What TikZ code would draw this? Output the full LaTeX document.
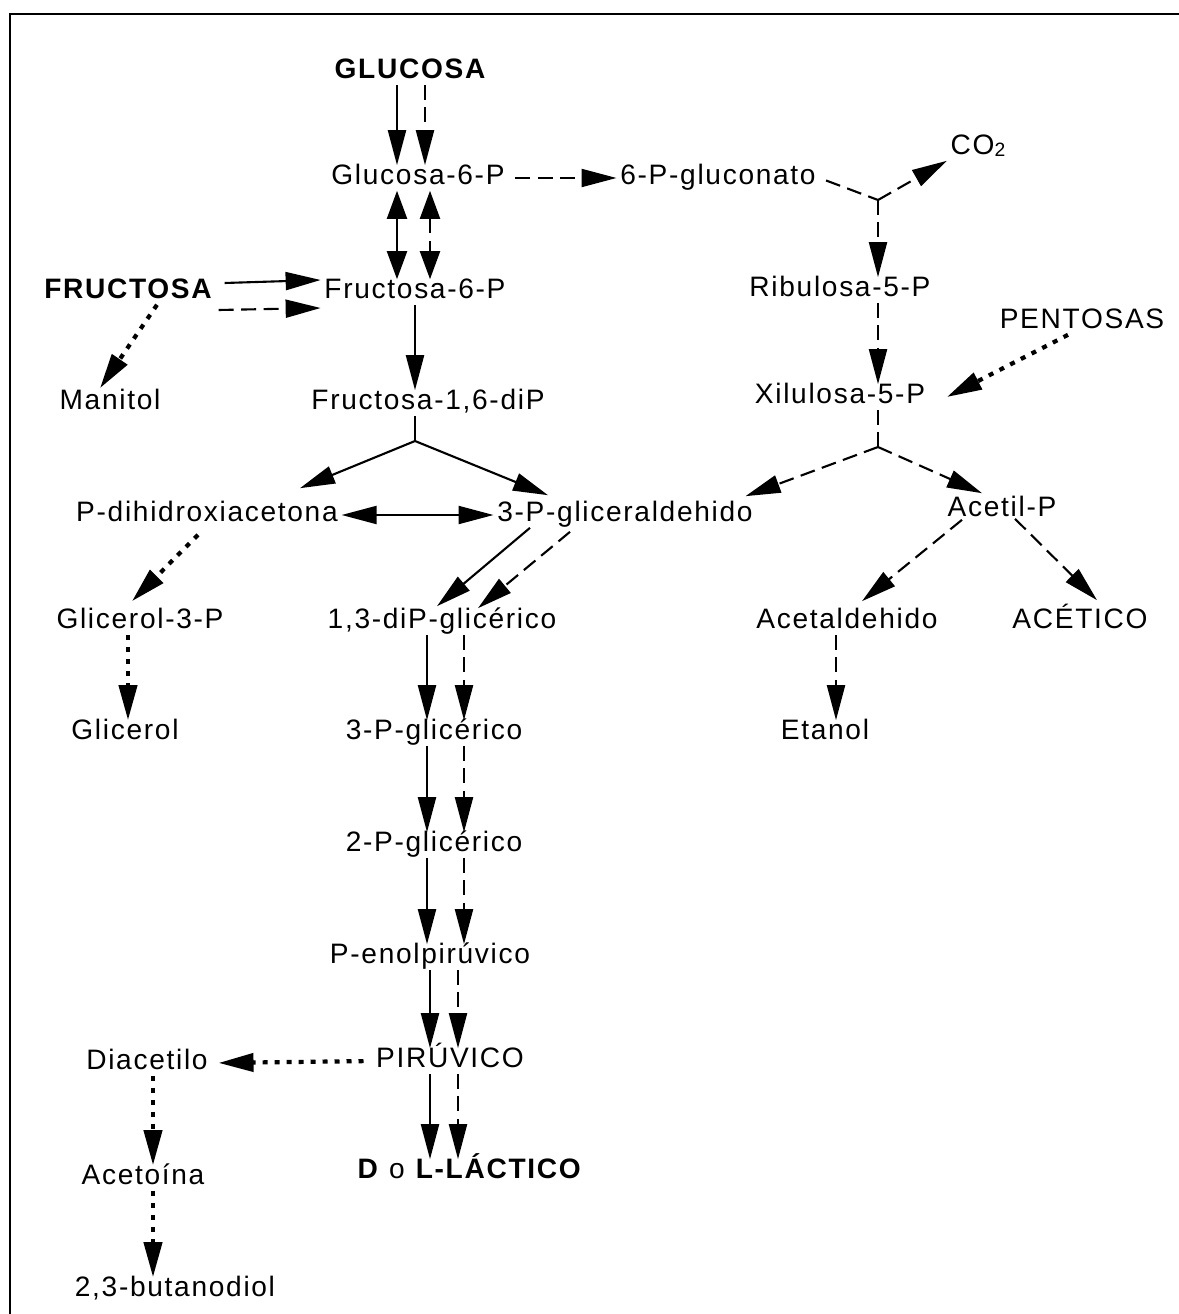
\documentclass[tikz,border=0pt]{standalone}
\usepackage{fontspec}
\setmainfont{Liberation Sans}[LetterSpace=6]
\usetikzlibrary{arrows.meta}
\tikzset{
  >={Triangle[length=7mm,width=3.6mm]},
  met/.style={inner xsep=2pt,inner ysep=3.5pt,text height=0.72em,text depth=0pt,font=\fontsize{16}{19}\selectfont},
  sugar/.style={met,font=\fontsize{16}{19}\selectfont\bfseries},
  glyco/.style={->,line width=1.2pt},
  hetero/.style={->,line width=1.2pt,dash pattern=on 3mm off 1.5mm},
  minor/.style={->,line width=2.4pt,dash pattern=on 1mm off 1.4mm},
  twoway/.style={>={Triangle[length=5.6mm,width=4mm]},<->},
  frame/.style={line width=1.7pt},
}

\begin{document}
\begin{tikzpicture}[x=0.02cm,y=-0.02cm]
  \useasboundingbox (0,0) rectangle (1178,1314);
  \draw[frame] (10,1330) -- (10,14) -- (1190,14);
  % metabolites
  \node[sugar] (glu) at (410,72) {GLUCOSA};
  \node[met] (g6p) at (418,178) {Glucosa-6-P};
  \node[met] (gnt) at (718,178) {6-P-gluconato};
  \node[met] (co2) at (978,148) {CO\raisebox{-1pt}{\fontsize{11}{11}\selectfont 2}};
  \node[sugar] (fru) at (128,292) {FRUCTOSA};
  \node[met] (f6p) at (415,292) {Fructosa-6-P};
  \node[met] (rib) at (840,290) {Ribulosa-5-P};
  \node[met] (pen) at (1082,322) {PENTOSAS};
  \node[met] (man) at (110,403) {Manitol};
  \node[met] (fdp) at (428,403) {Fructosa-1,6-diP};
  \node[met] (xil) at (840,397) {Xilulosa-5-P};
  \node[met] (dha) at (207,515) {P-dihidroxiacetona};
  \node[met] (gap) at (625,515) {3-P-gliceraldehido};
  \node[met] (acp) at (1002,510) {Acetil-P};
  \node[met] (g3p) at (140,622) {Glicerol-3-P};
  \node[met] (bpg) at (442,622) {1,3-diP-glicérico};
  \node[met] (acd) at (847,622) {Acetaldehido};
  \node[met] (ace) at (1080,622) {ACÉTICO};
  \node[met] (gol) at (125,733) {Glicerol};
  \node[met] (pg3) at (434,733) {3-P-glicérico};
  \node[met] (eta) at (825,733) {Etanol};
  \node[met] (pg2) at (434,845) {2-P-glicérico};
  \node[met] (pep) at (430,957) {P-enolpirúvico};
  \node[met] (pir) at (450,1061) {PIRÚVICO};
  \node[met] (dia) at (147,1063) {Diacetilo};
  \node[met] (lac) at (470,1172) {\textbf{D} o \textbf{L-LÁCTICO}};
  \node[met] (atn) at (143,1178) {Acetoína};
  \node[met] (bdo) at (175,1290) {2,3-butanodiol};
  % lanes and branch points
  \coordinate (l1s) at (397,0);
  \coordinate (l1d) at (425,0);
  \coordinate (l2d) at (430,0);
  \coordinate (l3) at (415,0);
  \coordinate (l4s) at (427,0);
  \coordinate (l4d) at (464,0);
  \coordinate (l5s) at (430,0);
  \coordinate (l5d) at (458,0);
  \coordinate (l6) at (836,0);
  \coordinate (l7) at (128,0);
  \coordinate (l8) at (153,0);
  \coordinate (jF) at (415,441);
  \coordinate (jG) at (878,200);
  \coordinate (jX) at (878,447);
  % upper part
  \draw[glyco] (glu.south -| l1s) -- (g6p.north -| l1s);
  \draw[hetero] (glu.south -| l1d) -- (g6p.north -| l1d);
  \draw[glyco,twoway] (g6p.south -| l1s) -- (f6p.north -| l1s);
  \draw[hetero,twoway] (g6p.south -| l2d) -- (f6p.north -| l2d);
  \draw[hetero,shorten <=4pt] (g6p.east) -- (gnt.west);
  \draw[hetero,-,shorten <=4pt] (gnt.east) -- (jG);
  \draw[hetero] (jG) -- (co2.south west);
  \draw[hetero] (jG) -- (rib.north -| jG);
  \draw[hetero] (rib.south -| jG) -- (xil.north -| jG);
  \draw[minor] ([shift={(-14,0)}]pen.south) -- ([shift={(18,0)}]xil.east);
  \draw[glyco] ([shift={(9,-9)}]fru.east) -- ([shift={(0,-12)}]f6p.west);
  \draw[hetero] ([shift={(3,18)}]fru.east) -- ([shift={(0,16)}]f6p.west);
  \draw[minor] ([shift={(29,0)}]fru.south) -- ([shift={(-10,-2)}]man.north);
  \draw[glyco] (f6p.south -| l3) -- (fdp.north -| l3);
  \draw[glyco,-] (fdp.south -| jF) -- (jF);
  \draw[glyco] (jF) -- ([shift={(93,-14)}]dha.north);
  \draw[glyco] (jF) -- ([shift={(-77,-7)}]gap.north);
  \draw[glyco,<->] (dha.east) -- (gap.west);
  \draw[glyco] ([shift={(-95,0)}]gap.south) -- ([shift={(-5,-3)}]bpg.north);
  \draw[hetero] ([shift={(-55,4)}]gap.south) -- ([shift={(36,-1)}]bpg.north);
  \draw[hetero,-] (xil.south -| jX) -- (jX);
  \draw[hetero] (jX) -- ([shift={(-11,-6)}]gap.north east);
  \draw[hetero] (jX) -- ([shift={(-20,-4)}]acp.north);
  \draw[hetero] ([shift={(-40,-3)}]acp.south) -- ([shift={(15,-8)}]acd.north);
  \draw[hetero] ([shift={(13,-4)}]acp.south) -- ([shift={(17,-9)}]ace.north);
  \draw[hetero] (acd.south -| l6) -- (eta.north -| l6);
  \draw[minor] ([shift={(-9,7)}]dha.south) -- ([shift={(-8,-8)}]g3p.north);
  \draw[minor] (g3p.south -| l7) -- (gol.north -| l7);
  % lower part
  \foreach \a/\b in {bpg/pg3,pg3/pg2,pg2/pep}{
    \draw[glyco] (\a.south -| l4s) -- (\b.north -| l4s);
    \draw[hetero] (\a.south -| l4d) -- (\b.north -| l4d);
  }
  \foreach \a/\b in {pep/pir,pir/lac}{
    \draw[glyco] (\a.south -| l5s) -- (\b.north -| l5s);
    \draw[hetero] (\a.south -| l5d) -- (\b.north -| l5d);
  }
  \draw[minor,shorten <=5pt,shorten >=4pt] (pir.west) -- (dia.east);
  \draw[minor] (dia.south -| l8) -- (atn.north -| l8);
  \draw[minor] (atn.south -| l8) -- (bdo.north -| l8);
\end{tikzpicture}
\end{document}
